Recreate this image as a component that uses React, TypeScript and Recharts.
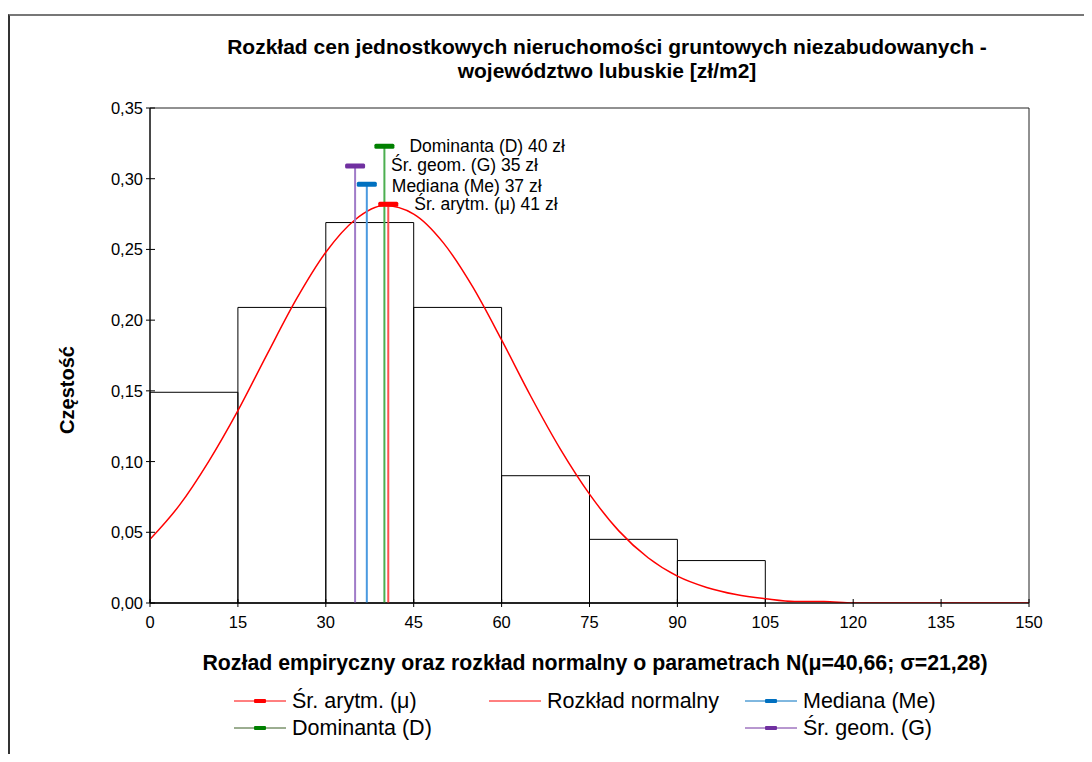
import React from "react";
import { ComposedChart, Line, XAxis, YAxis, ReferenceArea, Legend } from "recharts";

// histogram bins (zł/m2) and their relative frequency
const binStart = [0, 15, 30, 45, 60, 75, 90];
const binEnd = [15, 30, 45, 60, 75, 90, 105];
const binFreq = [0.149, 0.209, 0.269, 0.209, 0.09, 0.045, 0.03];

// normal curve, every 5 zł
const curveX = [0, 5, 10, 15, 20, 25, 30, 35, 40, 45, 50, 55, 60, 65, 70, 75, 80, 85, 90, 95, 100, 105, 110, 115, 120, 125, 130, 135, 140, 145, 150];
const curveY = [0.045, 0.069, 0.1, 0.136, 0.176, 0.215, 0.248, 0.271, 0.281, 0.275, 0.255, 0.224, 0.186, 0.146, 0.109, 0.077, 0.051, 0.032, 0.019, 0.011, 0.006, 0.003, 0.001, 0.001, 0, 0, 0, 0, 0, 0, 0];

// statistics markers
const statNames = ["Śr. arytm. (μ)", "Mediana (Me)", "Dominanta (D)", "Śr. geom. (G)"];
const statValues = [40.66, 37, 40, 35];
const statTops = [0.282, 0.296, 0.323, 0.309];
const statLabels = ["Śr. arytm. (μ) 41 zł", "Mediana (Me) 37 zł", "Dominanta (D) 40 zł", "Śr. geom. (G) 35 zł"];

const xTicks = [0, 15, 30, 45, 60, 75, 90, 105, 120, 135, 150];
const yTicks = [0, 0.05, 0.1, 0.15, 0.2, 0.25, 0.3, 0.35];

const FONT = "'Liberation Sans', Arial, sans-serif";
const H = 746;

const statStyle = [
  { line: "#ff5050", cap: "#ff0000", legendLine: "#ff0000", dx: 26, dy: 0 },
  { line: "#4a9ae0", cap: "#0070c0", legendLine: "#0070c0", dx: 25, dy: 1.5 },
  { line: "#4caf50", cap: "#008000", legendLine: "#385d23", dx: 25, dy: 0 },
  { line: "#a07cc8", cap: "#7030a0", legendLine: "#7030a0", dx: 36, dy: -0.5 },
];

const curveData = curveX.map((x, i) => ({ x, y: curveY[i] }));

const XTick = (props: any) => {
  const { x, y, payload } = props;
  return (
    <g>
      <line x1={x} x2={x} y1={y - 4} y2={y + 4} stroke="#000" />
      <text x={x} y={y + 19} textAnchor="middle" dominantBaseline="central" fontSize={16.5} fill="#000" fontFamily={FONT}>
        {payload.value}
      </text>
    </g>
  );
};

const YTick = (props: any) => {
  const { x, y, payload } = props;
  return (
    <g>
      <line x1={x - 4} x2={x + 5} y1={y} y2={y} stroke="#000" />
      <text x={x - 7} y={y} textAnchor="end" dominantBaseline="central" fontSize={16.5} fill="#000" fontFamily={FONT}>
        {Number(payload.value).toFixed(2).replace(".", ",")}
      </text>
    </g>
  );
};

function makeDot(i: number) {
  return (p: any) => {
    if (p.index !== 1) return <g key={`d${i}-${p.index}`} />;
    return (
      <g key={`d${i}-${p.index}`}>
        <rect x={p.cx - 10} y={p.cy - 2.5} width={20} height={5} rx={1.5} fill={statStyle[i].cap} />
        <text
          x={p.cx + statStyle[i].dx}
          y={p.cy + statStyle[i].dy}
          dominantBaseline="central"
          fontSize={17.5}
          fill="#000"
          fontFamily={FONT}
        >
          {statLabels[i]}
        </text>
      </g>
    );
  };
}

// legend order as in the picture: [stat index or -1 for the curve, column, row]
const legendOrder = [
  [0, 0, 0],
  [-1, 1, 0],
  [1, 2, 0],
  [2, 0, 1],
  [3, 2, 1],
];
const legendCols = [226, 481, 737];
const legendRows = [693, 720];

const LegendBox = () => (
  <div style={{ position: "relative", width: 1084, height: H }}>
    {legendOrder.map(([s, c, r]) => {
      const name = s < 0 ? "Rozkład normalny" : statNames[s];
      const lineColor = s < 0 ? "#ff0000" : statStyle[s].legendLine;
      return (
        <div
          key={name}
          style={{
            position: "absolute",
            left: legendCols[c],
            top: legendRows[r] - 13,
            height: 26,
            display: "flex",
            alignItems: "center",
            fontFamily: FONT,
            fontSize: 21.5,
            color: "#000",
            whiteSpace: "nowrap",
          }}
        >
          <svg width={52} height={10} style={{ marginRight: 6 }}>
            <line x1={0} x2={52} y1={5} y2={5} stroke={lineColor} strokeWidth={1} />
            {s >= 0 && <rect x={20} y={3} width={12} height={4} rx={1} fill={statStyle[s].cap} />}
          </svg>
          {name}
        </div>
      );
    })}
  </div>
);

export default function App() {
  return (
    <div style={{ position: "relative", width: 1084, height: H, fontFamily: FONT, overflow: "hidden" }}>
      <div
        style={{
          position: "absolute",
          left: 0,
          top: 6,
          width: 1100,
          height: 800,
          borderTop: "2px solid #777",
          borderLeft: "2px solid #333",
        }}
      />
      <div
        style={{
          position: "absolute",
          left: 99,
          top: 27,
          width: 1000,
          textAlign: "center",
          fontWeight: "bold",
          fontSize: 21,
          lineHeight: "24px",
          color: "#000",
        }}
      >
        Rozkład cen jednostkowych nieruchomości gruntowych niezabudowanych -
        <br />
        województwo lubuskie [zł/m2]
      </div>
      <div
        style={{
          position: "absolute",
          left: 87,
          top: 643,
          width: 1000,
          textAlign: "center",
          fontWeight: "bold",
          fontSize: 21.3,
          lineHeight: "24px",
          color: "#000",
        }}
      >
        Rozład empiryczny oraz rozkład normalny o parametrach N(μ=40,66; σ=21,28)
      </div>
      <div
        style={{
          position: "absolute",
          left: 59 - 100,
          top: 382 - 12,
          width: 200,
          textAlign: "center",
          fontWeight: "bold",
          fontSize: 20,
          lineHeight: "24px",
          transform: "rotate(-90deg)",
          color: "#000",
        }}
      >
        Częstość
      </div>
      <div style={{ position: "absolute", left: 0, top: 0 }}>
        <ComposedChart width={1084} height={H} data={curveData} margin={{ top: 100, right: 63, bottom: H - 595 - 30, left: 92 }}>
          <XAxis
            dataKey="x"
            type="number"
            domain={[0, 150]}
            ticks={xTicks}
            interval={0}
            allowDataOverflow
            height={30}
            tickSize={0}
            tickMargin={0}
            tick={<XTick />}
            axisLine={{ stroke: "#000" }}
          />
          <YAxis
            type="number"
            domain={[0, 0.35]}
            ticks={yTicks}
            interval={0}
            allowDataOverflow
            width={50}
            tickSize={0}
            tickMargin={0}
            tick={<YTick />}
            axisLine={{ stroke: "#000" }}
          />
          <ReferenceArea x1={0} x2={150} y1={0} y2={0.35} fill="none" stroke="#222" strokeWidth={1} ifOverflow="visible" />
          {binFreq.map((f, i) => (
            <ReferenceArea
              key={`bin-${i}`}
              x1={binStart[i]}
              x2={binEnd[i]}
              y1={0}
              y2={f}
              fill="none"
              fillOpacity={0}
              stroke="#000"
              strokeWidth={1}
              ifOverflow="visible"
            />
          ))}
          <Line
            type="monotone"
            dataKey="y"
            stroke="#ff0000"
            strokeWidth={1.5}
            dot={false}
            activeDot={false}
            isAnimationActive={false}
          />
          {statValues.map((v, i) => (
            <Line
              key={statNames[i]}
              data={[
                { x: v, y: 0 },
                { x: v, y: statTops[i] },
              ]}
              dataKey="y"
              type="linear"
              stroke={statStyle[i].line}
              strokeWidth={2}
              dot={makeDot(i)}
              activeDot={false}
              isAnimationActive={false}
            />
          ))}
          <Legend
            layout="horizontal"
            verticalAlign="middle"
            align="center"
            content={() => <LegendBox />}
            wrapperStyle={{ position: "absolute", left: 0, top: 0, width: 1084, height: H, pointerEvents: "none" }}
          />
        </ComposedChart>
      </div>
    </div>
  );
}
